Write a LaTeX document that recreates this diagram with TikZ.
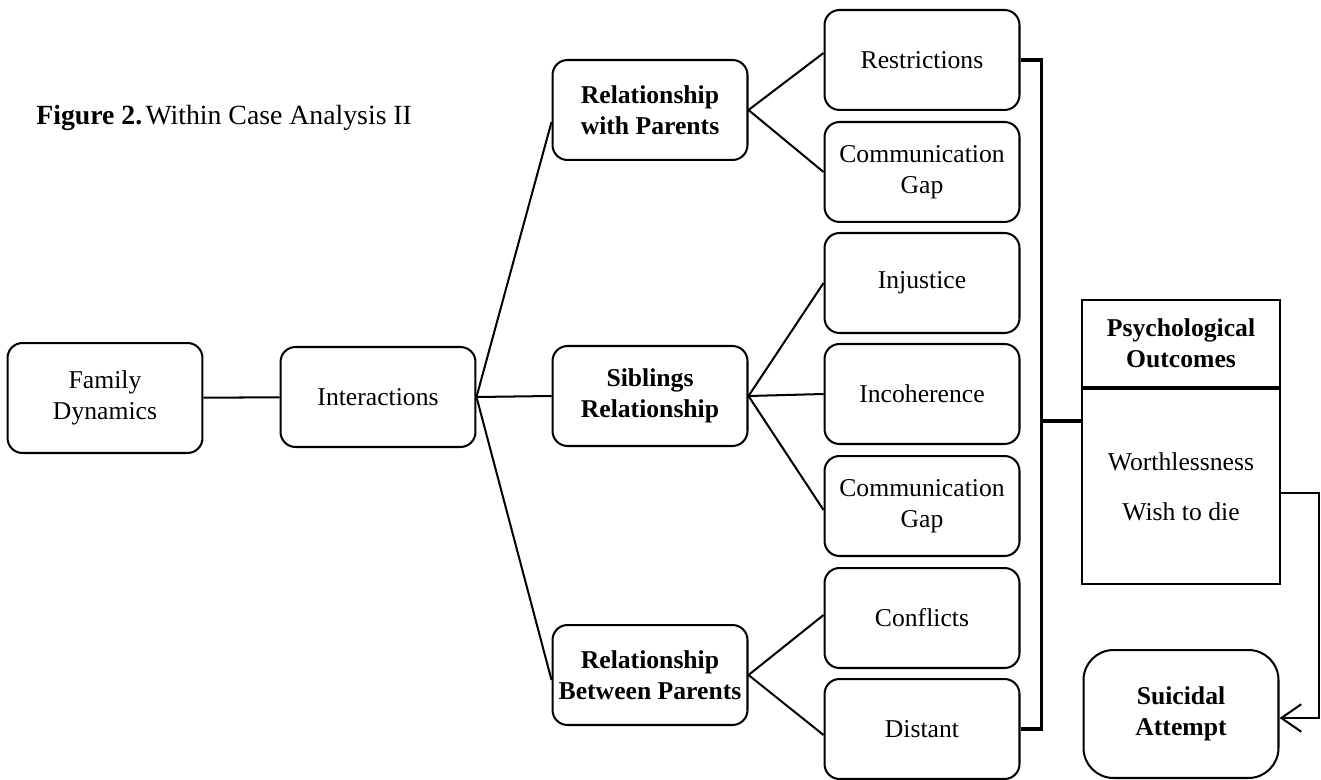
\documentclass[tikz,border=0pt]{standalone}
\usepackage{fontspec}
\setmainfont{Liberation Serif}
\usepackage{tikz}
\usetikzlibrary{calc,positioning,arrows.meta}

\tikzset{
  box/.style={draw, line width=1.15pt, rounded corners=0.3cm, minimum width=3.9cm,
    minimum height=2cm, align=center, font=\fontsize{14.6}{17.5}\selectfont},
  bbox/.style={box, font=\fontsize{14.6}{17.5}\selectfont\bfseries},
  plain/.style={draw, line width=1.15pt, minimum width=3.96cm, align=center,
    font=\fontsize{14.6}{17.5}\selectfont},
  link/.style={line width=1.15pt},
  bracket/.style={line width=2pt}
}

\begin{document}
\begin{tikzpicture}[x=0.02cm, y=-0.02cm]
            \useasboundingbox (0,0) rectangle (1321,780);
            % caption
            \node (cap) at (36,118) [anchor=west, inner sep=0pt, font=\fontsize{15.8}{18}\selectfont]
                {\textbf{Figure 2.}\hspace{0.12em}Within Case Analysis II};
            % left part
            \node (fam) at (105,398) [box, minimum height=2.2cm] {Family\\Dynamics};
            \node (inter) at (378,397) [box] {Interactions};
            \draw [link] (fam) -- (inter);
            % middle column
            \node (rwp) at (650,110) [bbox] {Relationship\\with Parents};
            \node (sib) at (650,396) [bbox] {Siblings\\Relationship};
            \node (rbp) at (650,675) [bbox] {Relationship\\Between Parents};
            \draw [link] (inter.east) -- ([yshift=-0.24cm]rwp.west);
            \draw [link] (inter.east) -- (sib.west);
            \draw [link] (inter.east) -- ([yshift=-0.1cm]rbp.west);
            % right column
            \node (res) at (922,60) [box] {Restrictions};
            \node (gapa) at (922,172) [box] {Communication\\Gap};
            \node (inj) at (922,283) [box] {Injustice};
            \node (inc) at (922,394) [box] {Incoherence};
            \node (gapb) at (922,506) [box] {Communication\\Gap};
            \node (conf) at (922,618) [box] {Conflicts};
            \node (dist) at (922,729) [box] {Distant};
            \draw [link] (rwp.east) -- ([yshift=0.14cm]res.west);
            \draw [link] (rwp.east) -- (gapa.west);
            \draw [link] (sib.east) -- (inj.west);
            \draw [link] (sib.east) -- (inc.west);
            \draw [link] (sib.east) -- ([yshift=-0.08cm]gapb.west);
            \draw [link] (rbp.east) -- ([yshift=0.06cm]conf.west);
            \draw [link] (rbp.east) -- ([yshift=-0.12cm]dist.west);
            % outcomes
            \node (psyh) at (1181,343.5) [plain, minimum height=1.74cm, font=\fontsize{14.6}{17.5}\selectfont\bfseries]
                {Psychological\\Outcomes};
            \node (psyb) at (1181,484.5) [plain, minimum height=3.9cm, below=0pt of psyh]
                {Worthlessness\\[0.38cm]Wish to die};
            \node (sui) at (1181,714) [box, rounded corners=0.6cm, minimum height=2.56cm, font=\fontsize{14.6}{17.5}\selectfont\bfseries]
                {Suicidal\\Attempt};
            \coordinate (bartop) at ($(res.east)+(21,0)$);
            \draw [bracket] (res.east) -- (bartop) |- (dist.east);
            \draw [bracket] (bartop |- psyb.north west) ++(0,33) -- ([yshift=-0.66cm]psyb.north west);
            \draw [link, -{Straight Barb[length=0.4cm, width=0.55cm]}]
                ([yshift=-0.13cm]psyb.east) -- ++(38,0) |- ([yshift=-0.08cm]sui.east);
        \end{tikzpicture}
\end{document}
